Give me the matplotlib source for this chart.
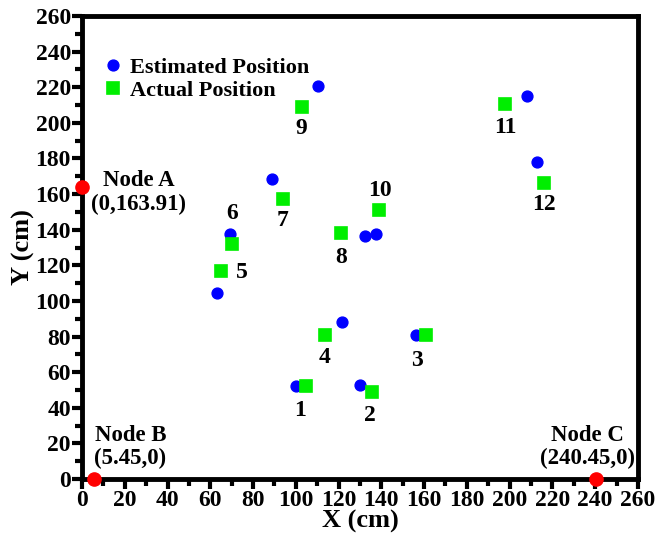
from matplotlib import pyplot as plt
from matplotlib.ticker import MultipleLocator
import numpy as np

# estimated and actual positions of nodes 1..12 (cm)
node_ids = ['1', '2', '3', '4', '5', '6', '7', '8', '9', '10', '11', '12']
est_x = [100.2, 130.0, 156.2, 121.6, 63.2, 69.0, 89.0, 132.4, 110.6, 137.6, 208.2, 213.0]
est_y = [52.1, 52.7, 80.6, 88.4, 104.5, 137.6, 168.5, 136.2, 220.6, 137.8, 214.9, 178.2]
act_x = [104.8, 135.8, 161.0, 113.6, 65.0, 70.2, 94.0, 121.0, 103.0, 138.8, 197.6, 216.2]
act_y = [52.5, 49.0, 80.8, 81.0, 117.0, 132.1, 157.2, 138.4, 208.9, 150.8, 210.3, 166.5]

# number label positions
lab_x = [102.0, 134.8, 156.6, 113.6, 75.0, 70.2, 93.6, 121.2, 102.6, 139.2, 198.2, 216.2]
lab_y = [38.5, 35.5, 66.7, 68.0, 116.0, 149.2, 145.2, 124.6, 196.8, 161.9, 197.4, 154.1]

# anchor nodes
anchor_names = ['Node A', 'Node B', 'Node C']
anchor_x = [0, 5.45, 240.45]
anchor_y = [163.91, 0, 0]
anchor_text_x = [26.4, 22.6, 236.2]
anchor_text_y = [161.0, 18.0, 18.0]


def main():
    plt.rcParams['font.family'] = ['Liberation Serif', 'DejaVu Serif']
    plt.rcParams['font.weight'] = 'bold'

    fig = plt.figure(figsize=(6.65, 5.42), dpi=100)
    ax = fig.add_axes([0.1233, 0.1162, 0.836, 0.8543])

    ax.plot(est_x, est_y, 'o', color='#0000ff', markersize=7.8,
            linestyle='none', label='Estimated Position', zorder=3)
    ax.plot(act_x, act_y, 's', color='#00ee00', markersize=8.5,
            markeredgewidth=1.2, markeredgecolor='#00ee00',
            linestyle='none', label='Actual Position', zorder=4)
    ax.plot(anchor_x, anchor_y, 'o', color='#ff0000', markersize=9.5,
            linestyle='none', clip_on=False, zorder=5)

    for name, x, y in zip(node_ids, lab_x, lab_y):
        ax.text(x, y, name, fontsize=17, fontweight='bold',
                ha='center', va='center')

    for name, ax_, ay_, tx, ty in zip(anchor_names, anchor_x, anchor_y,
                                      anchor_text_x, anchor_text_y):
        ax.text(tx, ty, f'{name}\n({ax_:g},{ay_:g})', fontsize=16.5,
                fontweight='bold', ha='center', va='center',
                linespacing=1.15)

    ax.set_xlim(0, 260)
    ax.set_ylim(0, 260)
    ax.xaxis.set_major_locator(MultipleLocator(20))
    ax.yaxis.set_major_locator(MultipleLocator(20))
    ax.xaxis.set_minor_locator(MultipleLocator(10))
    ax.yaxis.set_minor_locator(MultipleLocator(10))
    ax.tick_params(which='major', direction='out', length=7, width=3,
                   labelsize=17, pad=1)
    ax.tick_params(which='minor', direction='out', length=5, width=3)
    for lbl in ax.get_xticklabels() + ax.get_yticklabels():
        lbl.set_fontweight('bold')
    for sp in ax.spines.values():
        sp.set_linewidth(3.5)

    ax.set_xlabel('X (cm)', fontsize=19, fontweight='bold', labelpad=-1)
    ax.set_ylabel('Y (cm)', fontsize=19, fontweight='bold', labelpad=0)

    ax.legend(loc='upper left', bbox_to_anchor=(0.015, 0.935), frameon=False,
              handletextpad=0.3, borderpad=0, labelspacing=0.1,
              handlelength=1.0, prop={'weight': 'bold', 'size': 16})

    fig.savefig('out.png', dpi=100)


if __name__ == "__main__":
    main()
